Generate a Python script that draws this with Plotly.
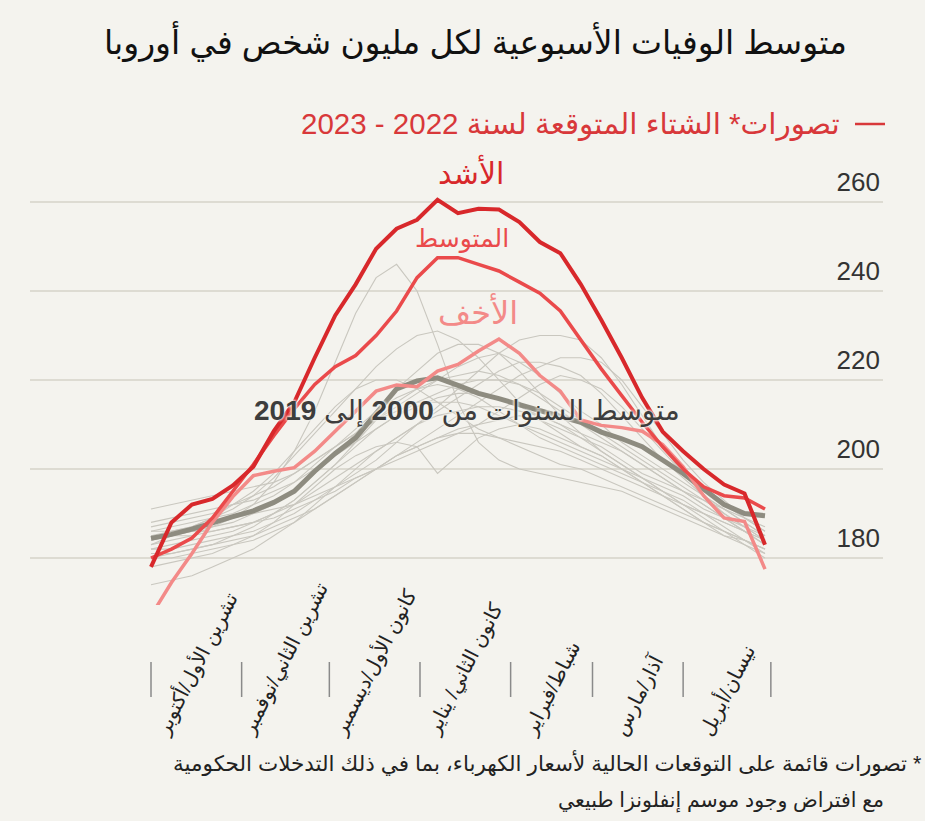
import pandas as pd
import plotly.graph_objects as go

# ---------------- data ----------------
weeks = pd.date_range("2022-10-01", periods=31, freq="7D")

worst = [178, 188, 192, 193.3, 196.3, 200.5, 208.5, 215, 225, 234.5, 241.5, 249.5, 254, 256,
         260.5, 257.5, 258.5, 258.3, 255.5, 251, 248.5, 241.5, 233.5, 225, 216, 208.4, 204,
         200, 196.5, 194.5, 183]
medium = [180, 182, 184.5, 189, 195, 201, 207.5, 213.5, 219, 223, 225.5, 230, 235.5, 243,
          247.5, 247.5, 246, 244.5, 242, 239.5, 235.5, 229, 222.5, 216.5, 210.5, 205, 200,
          196, 194, 193.5, 191]
mild = [167, 174.5, 181, 188, 193.8, 198.5, 199.5, 200.3, 204, 208.5, 213, 217.5, 218.9,
        218.5, 222, 223.5, 226.5, 229.2, 226, 221, 217.5, 211, 209.8, 209.3, 208.5, 205.5,
        200.5, 194, 189, 188.2, 177.5]
avg_2000_2019 = [184.4, 185.3, 186.5, 188, 189.3, 190.6, 192.5, 195, 199.5, 203.5, 207, 212.5,
                 218, 219.8, 220.5, 218.8, 217, 215.8, 214.5, 213.3, 212, 210.5, 208.3, 206.8,
                 205, 202, 199, 195.5, 192, 190, 189.5]

past_years = [
    [186, 187, 188, 189, 190, 192, 194, 197, 201, 205, 209, 213, 216, 218, 220, 221, 222, 221, 219, 216, 213, 210, 207, 204, 201, 198, 195, 192, 189, 186, 183],
    [183, 184, 185, 187, 189, 192, 197, 204, 213, 224, 235, 243, 246, 240, 228, 215, 206, 202, 200, 199, 198, 197, 196, 195, 193, 191, 189, 187, 185, 184, 182],
    [182, 182, 183, 184, 185, 186, 188, 190, 193, 196, 199, 202, 206, 210, 214, 218, 222, 226, 229, 230, 230, 229, 225, 219, 212, 205, 199, 194, 190, 187, 184],
    [185, 186, 187, 189, 191, 194, 198, 203, 208, 213, 218, 223, 227, 230, 231, 229, 225, 220, 215, 211, 208, 205, 203, 200, 197, 194, 191, 188, 186, 184, 182],
    [180, 180, 181, 182, 183, 184, 186, 188, 191, 194, 197, 200, 203, 205, 207, 208, 208, 207, 206, 205, 204, 202, 200, 198, 196, 194, 192, 190, 188, 186, 184],
    [174, 175, 176, 178, 180, 182, 185, 188, 192, 196, 200, 204, 207, 210, 212, 213, 214, 214, 213, 212, 210, 208, 206, 204, 201, 198, 195, 192, 189, 186, 183],
    [191, 192, 193, 194, 195, 196, 197, 199, 202, 205, 208, 211, 214, 217, 220, 223, 225, 226, 224, 221, 217, 213, 210, 206, 203, 200, 197, 194, 191, 188, 185],
    [184, 185, 185, 186, 187, 188, 190, 192, 195, 198, 201, 204, 207, 210, 213, 216, 219, 222, 224, 224, 223, 221, 217, 212, 207, 202, 198, 194, 191, 188, 185],
    [187, 188, 189, 190, 192, 194, 196, 199, 202, 205, 208, 211, 213, 215, 215, 215, 214, 212, 210, 208, 206, 204, 202, 200, 198, 196, 194, 191, 189, 187, 185],
    [183, 185, 187, 189, 192, 195, 199, 204, 209, 214, 218, 220, 220, 218, 215, 212, 209, 207, 205, 203, 201, 200, 198, 196, 194, 192, 190, 188, 186, 184, 182],
    [181, 181, 182, 183, 184, 185, 187, 189, 191, 194, 197, 200, 203, 205, 207, 209, 210, 211, 212, 211, 209, 207, 204, 201, 198, 195, 192, 189, 186, 183, 180],
    [185, 185, 186, 186, 187, 188, 189, 191, 193, 195, 198, 200, 203, 206, 209, 212, 215, 218, 221, 223, 225, 225, 224, 220, 214, 208, 202, 197, 193, 189, 186],
    [178, 179, 180, 181, 183, 185, 188, 192, 196, 200, 203, 205, 206, 205, 199, 203, 207, 209, 210, 209, 207, 205, 203, 200, 197, 194, 191, 188, 185, 183, 181],
    [184, 185, 186, 187, 188, 190, 192, 195, 199, 203, 208, 213, 218, 222, 226, 228, 228, 226, 222, 217, 212, 208, 204, 201, 198, 195, 192, 190, 188, 186, 184],
    [188, 189, 190, 191, 192, 193, 195, 197, 200, 203, 206, 209, 212, 214, 216, 217, 217, 216, 214, 212, 210, 207, 205, 202, 199, 197, 195, 193, 191, 189, 187],
    [182, 183, 184, 185, 186, 188, 190, 193, 197, 201, 206, 211, 215, 218, 219, 218, 216, 213, 210, 207, 205, 203, 201, 199, 197, 195, 193, 190, 187, 184, 181],
    [186, 186, 187, 188, 189, 190, 191, 192, 194, 196, 198, 200, 202, 204, 206, 208, 210, 213, 216, 219, 221, 220, 218, 214, 209, 204, 199, 195, 192, 189, 186],
    [180, 181, 182, 183, 185, 187, 190, 193, 197, 201, 205, 209, 212, 215, 217, 219, 220, 220, 219, 217, 214, 211, 208, 205, 202, 199, 196, 193, 190, 187, 184],
]

month_starts = ["2022-10-01", "2022-11-01", "2022-12-01", "2023-01-01",
                "2023-02-01", "2023-03-01", "2023-04-01", "2023-05-01"]
month_labels = ["تشرين الأول/أكتوبر", "تشرين الثاني/نوفمبر", "كانون الأول/ديسمبر",
                "كانون الثاني/ يناير", "شباط/فبراير", "آذار/مارس", "نيسان/أبريل"]
y_ticks = [180, 200, 220, 240, 260]

title = "متوسط الوفيات الأسبوعية لكل مليون شخص في أوروبا"
legend_text = "تصورات* الشتاء المتوقعة لسنة 2022 - 2023"
lbl_worst, lbl_medium, lbl_mild = "الأشد", "المتوسط", "الأخف"
lbl_avg = "متوسط السنوات من <b>2000</b> إلى <b>2019</b>"
foot1 = "\u200f* تصورات قائمة على التوقعات الحالية لأسعار الكهرباء، بما في ذلك التدخلات الحكومية"
foot2 = "مع افتراض وجود موسم إنفلونزا طبيعي"

# ---------------- styling ----------------
BG = "#f4f3ee"
C_WORST = "#d8282b"
C_MED = "#ea4a4b"
C_MILD = "#f38a88"
C_AVG = "#8e8c80"
C_THIN = "#c9c7bf"
FONT = "Liberation Sans, DejaVu Sans, sans-serif"

W, H = 925, 821
L, R, T, B = 30, 883, 150, 605   # plot area in px


def px(x, y):
    return (x - L) / (R - L), (B - y) / (B - T)


fig = go.Figure()
for yr in past_years:
    fig.add_trace(go.Scatter(x=weeks, y=yr, mode="lines", hoverinfo="skip",
                             line=dict(color=C_THIN, width=1.1), showlegend=False))
fig.add_trace(go.Scatter(x=weeks, y=avg_2000_2019, mode="lines",
                         line=dict(color=C_AVG, width=5), showlegend=False))
fig.add_trace(go.Scatter(x=weeks, y=mild, mode="lines",
                         line=dict(color=C_MILD, width=3.5), showlegend=False))
fig.add_trace(go.Scatter(x=weeks, y=medium, mode="lines",
                         line=dict(color=C_MED, width=3.5), showlegend=False))
fig.add_trace(go.Scatter(x=weeks, y=worst, mode="lines",
                         line=dict(color=C_WORST, width=4), showlegend=False))

ann = []
# title
x, y = px(475, 42)
ann.append(dict(text=title, x=x, y=y, xref="paper", yref="paper", showarrow=False,
                xanchor="center", yanchor="middle", font=dict(family=FONT, size=33, color="#111")))
# legend text
x, y = px(842, 124)
ann.append(dict(text=legend_text, x=x, y=y, xref="paper", yref="paper", showarrow=False,
                xanchor="right", yanchor="middle", font=dict(family=FONT, size=29.5, color="#d8383a")))
# series labels
for txt, cx, cy, col, sz in [(lbl_worst, 471, 172, C_WORST, 30),
                             (lbl_medium, 462, 238, C_MED, 25),
                             (lbl_mild, 478, 312, C_MILD, 32)]:
    x, y = px(cx, cy)
    ann.append(dict(text=txt, x=x, y=y, xref="paper", yref="paper", showarrow=False,
                    xanchor="center", yanchor="middle", font=dict(family=FONT, size=sz, color=col)))
x, y = px(682, 411)
ann.append(dict(text=lbl_avg, x=x, y=y, xref="paper", yref="paper", showarrow=False,
                xanchor="right", yanchor="middle",
                font=dict(family=FONT, size=28, color="#3d3d3d",
                          shadow="0 0 3px #f4f3ee, 0 0 3px #f4f3ee, 0 0 3px #f4f3ee")))
# month labels
ms = pd.to_datetime(month_starts)
_, yb = px(0, 742)
for i, lab in enumerate(month_labels):
    mid = ms[i] + (ms[i + 1] - ms[i]) / 2
    ann.append(dict(text=lab, x=mid, y=yb, xref="x", yref="paper", showarrow=False,
                    textangle=-63, xanchor="center", yanchor="bottom",
                    font=dict(family=FONT, size=20, color="#222")))
# footnotes
x, y = px(924, 763)
ann.append(dict(text=foot1, x=x, y=y, xref="paper", yref="paper", showarrow=False,
                xanchor="right", yanchor="middle", font=dict(family=FONT, size=21.5, color="#222")))
x, y = px(886, 800)
ann.append(dict(text=foot2, x=x, y=y, xref="paper", yref="paper", showarrow=False,
                xanchor="right", yanchor="middle", font=dict(family=FONT, size=20.5, color="#222")))

shapes = []
# legend dash
x0, yl = px(855, 124)
x1, _ = px(885, 124)
shapes.append(dict(type="line", xref="paper", yref="paper", x0=x0, x1=x1, y0=yl, y1=yl,
                   line=dict(color="#d8383a", width=2.5)))
# month tick marks
_, t0 = px(0, 662)
_, t1 = px(0, 697)
for m in ms:
    shapes.append(dict(type="line", xref="x", yref="paper", x0=m, x1=m, y0=t0, y1=t1,
                       line=dict(color="#8a8a8a", width=1.5)))

# axis ranges from pixel geometry
ppd = (765 - 151) / 210.0
start = pd.Timestamp("2022-10-01")
x_lo = start - pd.Timedelta(days=(151 - L) / ppd)
x_hi = start + pd.Timedelta(days=(R - 151) / ppd)
ppu = (558 - 202) / 80.0
y_lo = 180 - (B - 558) / ppu
y_hi = 180 + (558 - T) / ppu

fig.update_layout(
    width=W, height=H,
    margin=dict(l=L, r=W - R, t=T, b=H - B, pad=0),
    paper_bgcolor=BG, plot_bgcolor=BG,
    showlegend=False,
    annotations=ann, shapes=shapes,
    xaxis=dict(range=[x_lo, x_hi], showgrid=False, zeroline=False, showline=False,
               showticklabels=False, ticks=""),
    yaxis=dict(range=[y_lo, y_hi], side="right", tickvals=y_ticks,
               ticklabelposition="inside", ticklabelshift=-20, ticks="",
               showgrid=True, gridcolor="#dddbd2", gridwidth=2, zeroline=False,
               showline=False, tickfont=dict(family="Liberation Sans, Arial", size=26, color="#333")),
)

fig.write_html("out.html", config={"displayModeBar": False},
               post_script="document.body.style.margin='0px';")
